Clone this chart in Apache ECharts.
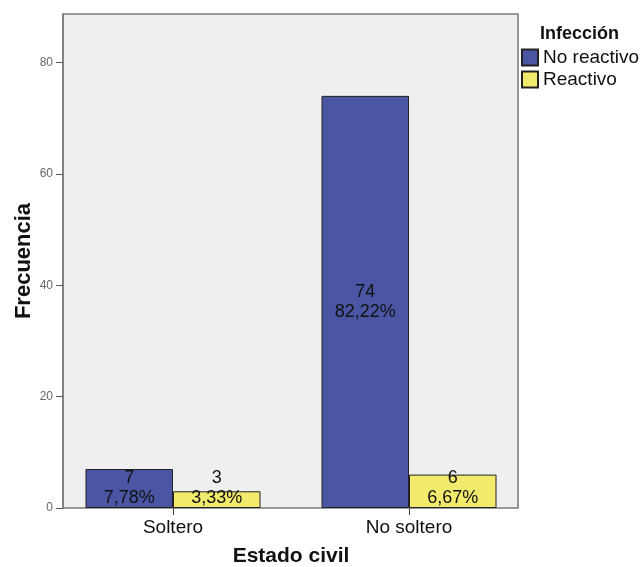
<!DOCTYPE html>
<html>
<head>
<meta charset="utf-8">
<script src="https://cdn.jsdelivr.net/npm/echarts@6/dist/echarts.min.js"></script>
<style>html,body{margin:0;padding:0;background:#fff}#c{width:642px;height:567px}</style>
</head>
<body>
<div id="c"></div>
<script>
var categories = ['Soltero', 'No soltero'];
var seriesNames = ['No reactivo', 'Reactivo'];
var noReactivo = [7, 74];
var reactivo = [3, 6];
var noReactivoPct = ['7,78%', '82,22%'];
var reactivoPct = ['3,33%', '6,67%'];
var yTicks = [0, 20, 40, 60, 80];

var FONT = 'Liberation Sans, Arial, sans-serif';
var YMAX = 88.7;

function makeData(vals, pcts) {
  return vals.map(function (v, i) {
    var small = v < 10;
    return {
      value: v,
      pct: pcts[i],
      label: small ? { position: 'insideBottom', distance: 0 } : { position: 'inside' }
    };
  });
}

var chart = echarts.init(document.getElementById('c'), null, { renderer: 'canvas' });
var labelCfg = {
  show: true,
  color: '#111',
  fontFamily: FONT,
  fontSize: 18,
  lineHeight: 20,
  formatter: function (p) { return p.value + '\n' + p.data.pct; }
};
chart.setOption({
  animation: false,
  title: {
    text: 'Infección',
    left: 535, top: 20,
    textStyle: { fontFamily: FONT, fontSize: 18, fontWeight: 'bold', color: '#111' }
  },
  legend: {
    orient: 'vertical',
    left: 521, top: 48, padding: 0,
    itemWidth: 16, itemHeight: 16, itemGap: 3,
    icon: 'rect',
    data: seriesNames,
    textStyle: { fontFamily: FONT, fontSize: 19, lineHeight: 18, color: '#111' }
  },
  grid: [
    { left: 63, top: 14, width: 455, height: 494, show: true, backgroundColor: '#efefef', borderColor: '#7a7a7a', borderWidth: 1.5, containLabel: false, outerBoundsMode: 'none' },
    { left: 55, top: 14, width: 472, height: 494, containLabel: false, outerBoundsMode: 'none' }
  ],
  xAxis: [
    { gridIndex: 0, type: 'value', show: false, min: 0, max: 1 },
    {
      gridIndex: 1, type: 'category', data: categories,
      axisLine: { show: false },
      axisTick: { show: true, alignWithLabel: true, length: 7, lineStyle: { color: '#444', width: 1 } },
      axisLabel: { fontFamily: FONT, fontSize: 19, color: '#111', margin: 10 },
      name: 'Estado civil', nameLocation: 'middle', nameGap: 38, nameMoveOverlap: false,
      nameTextStyle: { fontFamily: FONT, fontSize: 21, fontWeight: 'bold', color: '#111' }
    }
  ],
  yAxis: [
    {
      gridIndex: 0, type: 'value', min: 0, max: YMAX, interval: 20,
      axisLine: { show: true, lineStyle: { color: '#7a7a7a', width: 1.5 } },
      axisTick: { show: true, length: 7, lineStyle: { color: '#555' } },
      axisLabel: { fontFamily: FONT, fontSize: 12, color: '#666', margin: 10, showMaxLabel: false,
        formatter: function (v) { return yTicks.indexOf(v) >= 0 ? String(v) : ''; } },
      splitLine: { show: false },
      name: 'Frecuencia', nameLocation: 'middle', nameGap: 28, nameMoveOverlap: false,
      nameTextStyle: { fontFamily: FONT, fontSize: 22, fontWeight: 'bold', color: '#111' }
    },
    { gridIndex: 1, type: 'value', min: 0, max: YMAX, show: false }
  ],
  series: [
    {
      name: seriesNames[0], type: 'bar', xAxisIndex: 1, yAxisIndex: 1,
      barWidth: 87.5, barGap: '0%',
      itemStyle: { color: '#4a55a4', borderColor: '#222', borderWidth: 1 },
      label: labelCfg,
      data: makeData(noReactivo, noReactivoPct)
    },
    {
      name: seriesNames[1], type: 'bar', xAxisIndex: 1, yAxisIndex: 1,
      barWidth: 87.5, barGap: '0%',
      itemStyle: { color: '#f1ea6c', borderColor: '#222', borderWidth: 1 },
      label: labelCfg,
      data: makeData(reactivo, reactivoPct)
    }
  ]
});
</script>
</body>
</html>
